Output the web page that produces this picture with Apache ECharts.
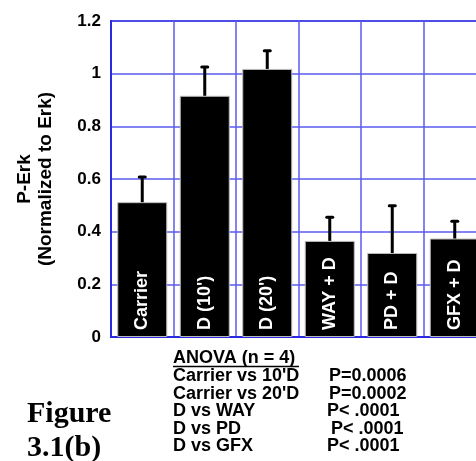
<!DOCTYPE html>
<html>
<head>
<meta charset="utf-8">
<style>
  html, body { margin: 0; padding: 0; background: #fff; }
  #chart { width: 476px; height: 461px; }
</style>
<script src="https://cdn.jsdelivr.net/npm/echarts@6/dist/echarts.min.js"></script>
</head>
<body>
<div id="chart"></div>
<script>
const categories = ['Carrier', "D (10')", "D (20')", 'WAY + D', 'PD + D', 'GFX + D']
const means = [0.512, 0.916, 1.018, 0.365, 0.319, 0.374]
const errTops = [0.608, 1.025, 1.087, 0.455, 0.498, 0.44]
const yTicks = [0, 0.2, 0.4, 0.6, 0.8, 1, 1.2]

const statRows = [
  ["Carrier vs 10'D", 'P=0.0006', 329],
  ["Carrier vs 20'D", 'P=0.0002', 329],
  ['D vs WAY', 'P< .0001', 327],
  ['D vs PD', 'P< .0001', 331],
  ['D vs GFX', 'P< .0001', 327]
]

const font = 'Liberation Sans, Arial, sans-serif'
const serif = 'Liberation Serif, Times New Roman, serif'
const blue = '#2a2ae0'

const chart = echarts.init(document.getElementById('chart'))

const statGraphics = []
statGraphics.push({
  type: 'text', x: 173, y: 358,
  style: { text: 'ANOVA (n = 4)', font: 'bold 18px ' + font, fill: '#000', verticalAlign: 'middle' }
})
statGraphics.push({
  type: 'line', shape: { x1: 173, y1: 366.5, x2: 299, y2: 366.5 },
  style: { stroke: '#000', lineWidth: 1.5 }
})
statRows.forEach((row, i) => {
  const y = 376.5 + i * 17.5
  statGraphics.push({
    type: 'text', x: 173, y: y,
    style: { text: row[0], font: 'bold 18px ' + font, fill: '#000', verticalAlign: 'middle' }
  })
  statGraphics.push({
    type: 'text', x: row[2], y: y,
    style: { text: row[1], font: 'bold 18px ' + font, fill: '#000', verticalAlign: 'middle' }
  })
})
statGraphics.push({
  type: 'text', x: 27, y: 414,
  style: { text: 'Figure', font: 'bold 30px ' + serif, fill: '#000', verticalAlign: 'middle' }
})
statGraphics.push({
  type: 'text', x: 27, y: 448,
  style: { text: '3.1(b)', font: 'bold 30px ' + serif, fill: '#000', verticalAlign: 'middle' }
})

chart.setOption({
  animation: false,
  backgroundColor: '#fff',
  grid: {
    left: 111,
    top: 21,
    width: 375,
    height: 316,
    outerBoundsMode: 'none',
    containLabel: false,
    show: true,
    borderColor: blue,
    borderWidth: 2
  },
  xAxis: {
    type: 'category',
    data: categories,
    axisTick: { show: false },
    axisLabel: { show: false },
    axisLine: { lineStyle: { color: blue, width: 2 } },
    splitLine: {
      show: true,
      interval: 0,
      lineStyle: { color: '#5a5aee', width: 1.5 }
    }
  },
  yAxis: {
    type: 'value',
    min: 0,
    max: 1.2,
    interval: 0.2,
    name: 'P-Erk\n(Normalized to Erk)',
    nameLocation: 'middle',
    nameGap: 55,
    nameTextStyle: {
      fontFamily: font,
      fontWeight: 'bold',
      fontSize: 19,
      color: '#000',
      lineHeight: 21
    },
    axisTick: { show: false },
    axisLine: { show: true, lineStyle: { color: blue, width: 2 } },
    splitLine: { lineStyle: { color: '#5a5aee', width: 1.5 } },
    axisLabel: {
      margin: 10,
      fontFamily: font,
      fontWeight: 'bold',
      fontSize: 17,
      color: '#000',
      formatter: v => {
        const t = yTicks.find(k => Math.abs(k - v) < 1e-6)
        return t === undefined ? '' : String(t)
      }
    }
  },
  series: [
    {
      type: 'bar',
      data: means,
      barWidth: '80%',
      itemStyle: { color: '#000', borderColor: '#bbb', borderWidth: 1 },
      label: {
        show: true,
        position: 'insideBottom',
        rotate: 90,
        align: 'left',
        verticalAlign: 'middle',
        distance: 7,
        formatter: '{b}',
        color: '#fff',
        fontFamily: font,
        fontWeight: 'bold',
        fontSize: 18
      },
      z: 2
    },
    {
      type: 'custom',
      data: errTops.map((t, i) => [i, means[i], t]),
      renderItem: (params, api) => {
        const base = api.coord([api.value(0), api.value(1)])
        const top = api.coord([api.value(0), api.value(2)])
        return {
          type: 'group',
          children: [
            {
              type: 'line',
              shape: { x1: base[0], y1: base[1], x2: top[0], y2: top[1] },
              style: { stroke: '#000', lineWidth: 3 }
            },
            {
              type: 'line',
              shape: { x1: top[0] - 3, y1: top[1], x2: top[0] + 3, y2: top[1] },
              style: { stroke: '#000', lineWidth: 3, lineCap: 'round' }
            }
          ]
        }
      },
      z: 3
    }
  ],
  graphic: statGraphics
})
</script>
</body>
</html>
